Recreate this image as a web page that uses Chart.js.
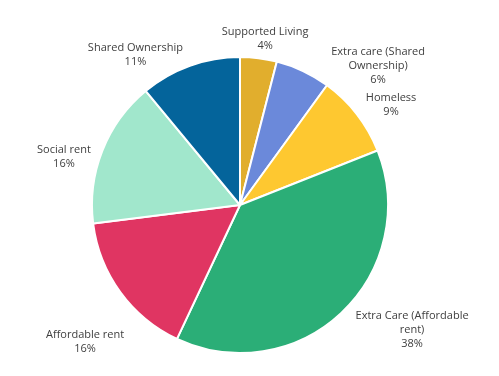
<!DOCTYPE html>
<html lang="en">
<head>
<meta charset="UTF-8"/>
<title>Housing mix</title>
<style>
    html, body {
        margin: 0;
        background: #ffffff;
        overflow: hidden;
    }
    .wrap {
        width: 499px;
        height: 376px;
        position: relative;
    }
</style>
</head>
<body>
<div class="wrap">
    <canvas id="pieChart"></canvas>
</div>

<script src="https://cdn.jsdelivr.net/npm/chart.js"></script>
<script>
// slices, clockwise from 12 o'clock
const categories = [
    ['Supported Living'],
    ['Extra care (Shared', 'Ownership)'],
    ['Homeless'],
    ['Extra Care (Affordable', 'rent)'],
    ['Affordable rent'],
    ['Social rent'],
    ['Shared Ownership']
];
const shares = [4, 6, 9, 38, 16, 16, 11];
const sliceColors = ['#E1AE2D', '#6B89DA', '#FEC830', '#2BAE77', '#E03562', '#A1E7CC', '#04649B'];

// where each label sits: angle (deg from top, clockwise) and distance as a multiple of radius
const labelAngle = [8.6, 44.7, 56.5, 126.0, 228.5, 285.4, 325.1];
const labelDist = [1.134, 1.326, 1.224, 1.437, 1.398, 1.234, 1.235];

const outsideLabels = {
    id: 'outsideLabels',
    afterDraw(chart) {
        const ctx = chart.ctx;
        const arc = chart.getDatasetMeta(0).data[0];
        const cx = arc.x, cy = arc.y, r = arc.outerRadius;
        const lineH = 14;
        ctx.save();
        ctx.font = '11px "Open Sans", "Noto Sans", sans-serif';
        ctx.fillStyle = '#404040';
        ctx.textAlign = 'center';
        ctx.textBaseline = 'middle';
        categories.forEach((lines, i) => {
            const a = labelAngle[i] * Math.PI / 180;
            const x = cx + Math.sin(a) * r * labelDist[i];
            const y = cy - Math.cos(a) * r * labelDist[i];
            const all = lines.concat([shares[i] + '%']);
            const top = y - (all.length - 1) * lineH / 2;
            all.forEach((t, k) => ctx.fillText(t, x, top + k * lineH));
        });
        ctx.restore();
    }
};

new Chart(document.getElementById('pieChart'), {
    type: 'pie',
    data: {
        labels: categories.map(c => c.join(' ')),
        datasets: [{
            data: shares,
            backgroundColor: sliceColors,
            borderColor: '#ffffff',
            borderWidth: 2
        }]
    },
    options: {
        responsive: true,
        maintainAspectRatio: false,
        animation: false,
        layout: {
            padding: { top: 56, bottom: 22, left: 91, right: 110 }
        },
        plugins: {
            legend: { display: false },
            tooltip: { enabled: false }
        }
    },
    plugins: [outsideLabels]
});
</script>
</body>
</html>
